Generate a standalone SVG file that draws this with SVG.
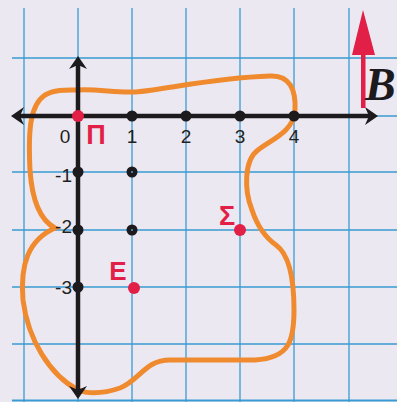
<svg xmlns="http://www.w3.org/2000/svg" width="397" height="402" viewBox="0 0 397 402">
<style>
.grid line{stroke:#3A9BD2;stroke-width:1.3}
.axis{stroke:#1c1a1c;stroke-width:4.5;fill:none}
.head{fill:#1c1a1c}
.dot{fill:#1c1a1c}
.red{fill:#E21F47}
.num{font-family:"Liberation Sans",Arial,sans-serif;font-size:19px;fill:#231f20}
.lbl{font-family:"Liberation Sans",Arial,sans-serif;font-size:27px;font-weight:bold;fill:#E21F47;text-anchor:middle}
</style>
<rect width="397" height="402" fill="#ECE8F2"/>
<g class="grid">
<line x1="24" y1="8" x2="24" y2="402"/>
<line x1="78" y1="8" x2="78" y2="402"/>
<line x1="132" y1="8" x2="132" y2="402"/>
<line x1="186" y1="8" x2="186" y2="402"/>
<line x1="240" y1="8" x2="240" y2="402"/>
<line x1="294" y1="8" x2="294" y2="402"/>
<line x1="349" y1="8" x2="349" y2="402"/>
<line x1="12" y1="58" x2="397" y2="58"/>
<line x1="12" y1="116" x2="397" y2="116"/>
<line x1="12" y1="172" x2="397" y2="172"/>
<line x1="12" y1="230" x2="397" y2="230"/>
<line x1="12" y1="287" x2="397" y2="287"/>
<line x1="12" y1="344" x2="397" y2="344"/>
<line x1="12" y1="400.5" x2="397" y2="400.5" style="stroke-width:2"/>
</g>
<g id="curve">
<path d="M78 90 C100 89 115 93 135 92 C165 90 210 78 270 76 C290 75 296 90 295 110 C294 132 270 140 258 150 C244 160 244 190 252 210 C258 228 266 238 276 245 C290 255 294 280 294 310 C294 340 290 358 255 360 L170 360 C145 360 140 380 120 388 C100 395 85 393 78 390 C50 375 28 340 23 300 C20 265 28 240 55 228 C40 220 32 200 30 170 C28 130 30 105 45 95 C55 89 68 90 78 90 Z" fill="none" stroke="#F08A2E" stroke-width="5"/>
</g>
<g id="axes">
<line class="axis" x1="16" y1="116" x2="372" y2="116"/>
<line class="axis" x1="78" y1="62" x2="78" y2="393"/>
<polygon class="head" points="11,116 24,107 20,116 24,125"/>
<polygon class="head" points="378,116 365,107 369,116 365,125"/>
<polygon class="head" points="78,56 69,69 78,65 87,69"/>
<polygon class="head" points="78,399 69,386 78,390 87,386"/>
</g>
<g id="dots">
<circle class="dot" cx="132" cy="116" r="5.5"/>
<circle class="dot" cx="186" cy="116" r="5.5"/>
<circle class="dot" cx="240" cy="116" r="5.5"/>
<circle class="dot" cx="294" cy="116" r="5.5"/>
<circle class="dot" cx="78" cy="172" r="5.5"/>
<circle class="dot" cx="132" cy="172" r="5.5"/>
<circle class="dot" cx="78" cy="230" r="5.5"/>
<circle class="dot" cx="132" cy="230" r="5.5"/>
<circle class="dot" cx="78" cy="287" r="5.5"/>
<circle cx="132" cy="172" r="1" fill="#5a9fc8"/>
<circle cx="132" cy="230" r="1" fill="#5a9fc8"/>
</g>
<g id="points">
<circle class="red" cx="78" cy="116" r="6"/>
<circle class="red" cx="134" cy="288" r="6"/>
<circle class="red" cx="240" cy="230" r="6"/>
<text class="lbl" x="96" y="144">Π</text>
<text class="lbl" x="118" y="280" style="font-size:26px">E</text>
<text class="lbl" x="227" y="225">Σ</text>
</g>
<g id="labels">
<text class="num" x="65" y="143" text-anchor="middle">0</text>
<text class="num" x="132" y="143" text-anchor="middle">1</text>
<text class="num" x="186" y="143" text-anchor="middle">2</text>
<text class="num" x="240" y="143" text-anchor="middle">3</text>
<text class="num" x="294" y="143" text-anchor="middle">4</text>
<text class="num" x="72" y="182" text-anchor="end">-1</text>
<text class="num" x="72" y="233" text-anchor="end">-2</text>
<text class="num" x="72" y="294" text-anchor="end">-3</text>
</g>
<g id="vector">
<rect x="361" y="50" width="4.5" height="58" fill="#E21F47"/>
<polygon points="363,10 352,55 375,55" fill="#E21F47"/>
<text x="365" y="100" style="font-family:'Liberation Serif','Times New Roman',serif;font-style:italic;font-weight:bold;font-size:46px;fill:#1c1a1c">B</text>
</g>
</svg>
